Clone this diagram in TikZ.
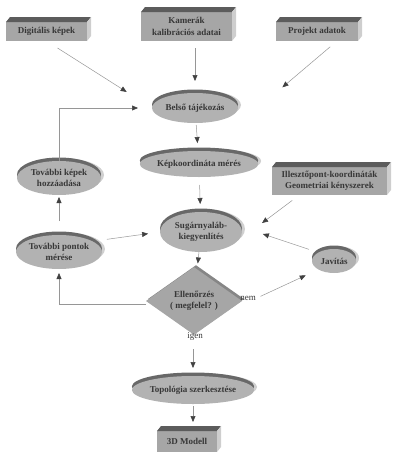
\documentclass[tikz,border=0pt]{standalone}
\usepackage{fontspec}
\setmainfont{Liberation Serif}
\usepackage{tikz}
\usetikzlibrary{shapes.geometric,arrows.meta,positioning,calc,shadows}
\definecolor{boxfront}{RGB}{166,166,166}
\definecolor{boxtop}{RGB}{92,92,92}
\definecolor{boxside}{RGB}{206,206,206}
\definecolor{ellfill}{RGB}{178,178,178}
\definecolor{elltop}{RGB}{104,104,104}
\definecolor{ellside}{RGB}{208,208,208}
\definecolor{txt}{RGB}{55,55,55}
\definecolor{linec}{RGB}{150,150,150}

% top and right faces of a solid box
\newcommand{\boxfaces}[1]{%
  \fill[boxtop] (#1.north west) -- ++(4,-5) -- ($(#1.north east)+(4,-5)$) -- (#1.north east) -- cycle;
  \fill[boxside] (#1.north east) -- ++(4,-5) -- ($(#1.south east)+(4,-5)$) -- (#1.south east) -- cycle;}

\begin{document}
\begin{tikzpicture}[x=1pt, y=-1pt,
    font=\fontsize{9}{11}\selectfont,
    solid/.style={rectangle, fill=boxfront, inner sep=0pt, outer sep=0pt, align=center, text=txt, font=\fontsize{9}{11.5}\selectfont\bfseries},
    disc/.style={ellipse, fill=ellfill, inner sep=0pt, outer sep=0pt, align=center, text=txt, font=\fontsize{9}{11.5}\selectfont\bfseries,
        copy shadow={shadow xshift=3pt, shadow yshift=3pt, fill=ellside, draw=none},
        copy shadow={shadow xshift=0pt, shadow yshift=3.5pt, fill=elltop, draw=none}},
    check/.style={diamond, fill=boxfront, inner sep=0pt, outer sep=0pt, align=center, text=txt, font=\fontsize{9}{11.5}\selectfont\bfseries,
        copy shadow={shadow xshift=2pt, shadow yshift=2pt, fill=elltop!80, draw=none}},
    tag/.style={inner sep=1pt, text=txt},
    arr/.style={draw=linec, line width=0.5pt, -{Triangle[length=6pt, width=5pt, color=black!75]}}
]
\useasboundingbox (0,0) rectangle (401,461);

% Input boxes
\node[solid, minimum width=81pt, minimum height=19pt] (digit) at (46.5,31.5) {Digitális képek};
\node[solid, minimum width=91pt, minimum height=29pt] (kamera) at (186.5,26.5) {Kamerák\\kalibrációs adatai};
\node[solid, minimum width=82pt, minimum height=19pt] (projekt) at (317,31.5) {Projekt adatok};
\node[solid, minimum width=115pt, minimum height=28pt] (illeszto) at (329.5,181) {Illesztőpont-koordináták\\Geometriai kényszerek};
\node[solid, minimum width=60pt, minimum height=21pt] (model) at (187,441.5) {3D Modell};
\boxfaces{digit}
\boxfaces{kamera}
\boxfaces{projekt}
\boxfaces{illeszto}
\boxfaces{model}

% Processing steps
\node[disc, minimum width=86pt, minimum height=30pt] (belso) at (195,108) {Belső tájékozás};
\node[disc, minimum width=104pt, minimum height=26pt] (kepkoord) at (199,164) {Képkoordináta mérés};
\node[disc, minimum width=84pt, minimum height=34pt] (kepek) at (59,178) {További képek\\hozzáadása};
\node[disc, minimum width=82pt, minimum height=40pt] (sugar) at (201,232) {Sugárnyaláb-\\kiegyenlítés};
\node[disc, minimum width=86pt, minimum height=34pt] (pontok) at (59,252) {További pontok\\mérése};
\node[disc, minimum width=44pt, minimum height=24pt] (javitas) at (334,261) {Javítás};
\node[disc, minimum width=114pt, minimum height=28pt] (topo) at (193,390) {Topológia szerkesztése};

% Decision
\node[check, minimum width=96pt, minimum height=54pt] (ellenor) at (194,301) {Ellenőrzés\\( megfelel? )};
\node[tag] (nem) at (248,298) {nem};
\node[tag] (igen) at (195,336) {igen};

% Connections
\draw[arr, shorten <=13pt, shorten >=30pt] (digit.south) -- (belso.west);
\draw[arr, shorten <=7pt, shorten >=12pt] (kamera.south -| belso.north) -- (belso.north);
\draw[arr, shorten <=9pt, shorten >=32pt] ([xshift=20pt]projekt.south) -- ([xshift=20pt]belso.east);
\draw[arr, shorten <=2pt, shorten >=8pt] (belso) -- (kepkoord);
\draw[arr, shorten <=8pt, shorten >=8pt] (kepkoord) -- (sugar);
\draw[arr, shorten <=9pt, shorten >=25pt] ([xshift=-30pt]illeszto.south) -- ([yshift=-6pt]sugar.east);
\draw[arr, shorten <=10pt, shorten >=22pt] (javitas.north west) -- ([yshift=5pt]sugar.east);
\draw[arr, shorten <=5pt, shorten >=12pt] ([yshift=12pt]pontok.east) -- (sugar.west);
\draw[arr, shorten <=14pt, shorten >=2pt] (pontok) -- (kepek);
\draw[arr, shorten >=14pt] (kepek.north) |- (belso.west);
\draw[arr, shorten >=6pt] (sugar) -- (ellenor);
\draw[arr, shorten >=4pt] ([yshift=-3pt]ellenor.west) -| (pontok.south);
\draw[arr, shorten <=4pt, shorten >=14pt] (nem.east) -- (javitas.south west);
\draw[arr, shorten <=8pt, shorten >=8pt] (igen.south -| topo.north) -- (topo.north);
\draw[arr, shorten <=2pt, shorten >=9pt] (topo.south) -- (topo.south |- model.north);

\end{tikzpicture}
\end{document}
